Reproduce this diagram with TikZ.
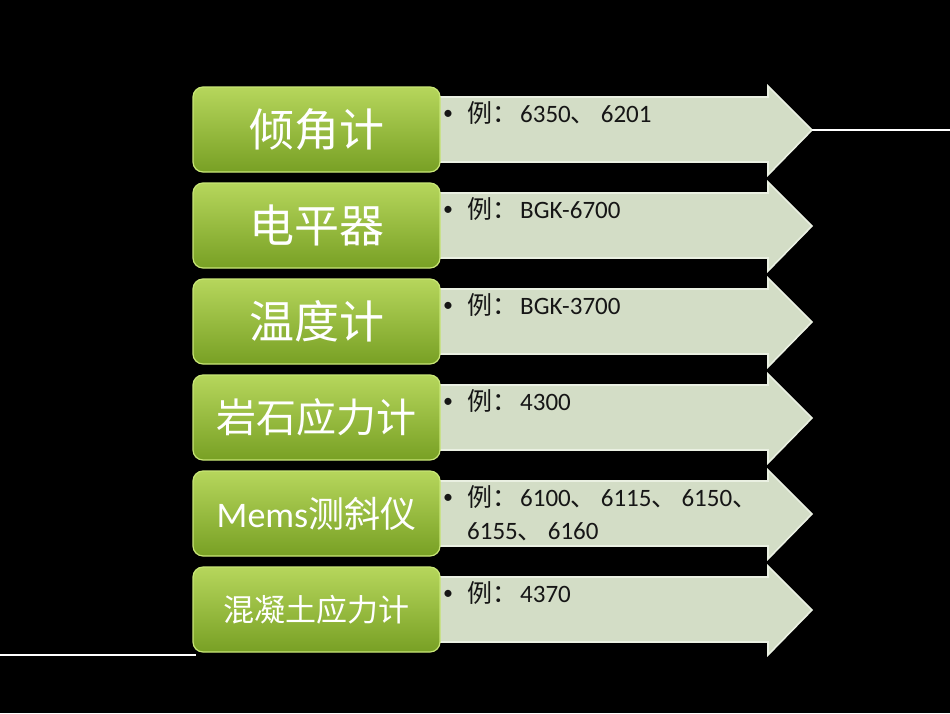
\documentclass[tikz,border=0pt]{standalone}
\usepackage{fontspec}
\setmainfont{Carlito}
\newfontfamily\cjk{Noto Sans CJK SC}
\usetikzlibrary{positioning}
\definecolor{boxtop}{RGB}{182,214,92}
\definecolor{boxbot}{RGB}{120,160,36}
\definecolor{boxedge}{RGB}{200,230,118}
\definecolor{arrowfill}{RGB}{211,221,198}
\definecolor{arrowedge}{RGB}{234,240,226}
\definecolor{itemink}{RGB}{22,22,22}

\newcommand{\dun}{{\cjk 、}\hspace{5pt}}

\tikzset{
  labelbox/.style={rounded corners=10pt, top color=boxtop, bottom color=boxbot,
    draw=boxedge, line width=1.2pt, minimum width=247pt, minimum height=85pt,
    inner sep=0pt, text=white},
  arrowbody/.style={fill=arrowfill, draw=arrowedge, line width=1.6pt, line join=miter},
  examplenode/.style={anchor=north west, inner sep=0pt, text width=330pt, align=left,
    text=itemink, font=\fontsize{25}{33}\selectfont},
  itemdot/.style={inner sep=0pt, text=itemink, font=\fontsize{20}{20}\selectfont},
  whiteline/.style={white, line width=2pt}
}

\begin{document}
\begin{tikzpicture}[x=1pt, y=-1pt]
% background
\fill[black] (0,0) rectangle (950,713);
\useasboundingbox (0,0) rectangle (950,713);

% one row per instrument: arrow first, green box on top
\foreach \i/\lab/\fs/\ex in {
    1/{\cjk 倾角计}/45/{{\cjk 例：}\hspace{3pt}6350\dun 6201},
    2/{\cjk 电平器}/45/{{\cjk 例：}\hspace{3pt}BGK-6700},
    3/{\cjk 温度计}/45/{{\cjk 例：}\hspace{3pt}BGK-3700},
    4/{\cjk 岩石应力计}/40/{{\cjk 例：}\hspace{3pt}4300},
    5/{Mems{\cjk 测斜仪}}/36/{{\cjk 例：}\hspace{3pt}6100\dun 6115\dun 6150{\cjk 、}\\6155\dun 6160},
    6/{\cjk 混凝土应力计}/31/{{\cjk 例：}\hspace{3pt}4370}} {
  \pgfmathsetmacro{\t}{87+96*(\i-1)}
  \draw[arrowbody] (430,\t+10) -- (768,\t+10) -- (768,\t-1) -- (812,\t+43)
    -- (768,\t+88) -- (768,\t+75) -- (430,\t+75) -- cycle;
  \coordinate (tip\i) at (812,\t+43);
  \node[labelbox, font=\fontsize{\fs}{\fs}\selectfont] (box\i) at (316.5,\t+42.5) {\lab};
  \node[examplenode] (ex\i) at (467,\t+14) {\ex};
  \node[itemdot] (dot\i) at ([xshift=-19pt, yshift=-14pt]ex\i.north west) {\textbullet};
}

% white rules
\coordinate (edgeR) at (950,0);
\coordinate (edgeL) at (0,655);
\draw[whiteline] (tip1) -- (tip1 -| edgeR);
\draw[whiteline] (edgeL) -- ([xshift=4pt]edgeL -| box6.west);
\end{tikzpicture}
\end{document}
